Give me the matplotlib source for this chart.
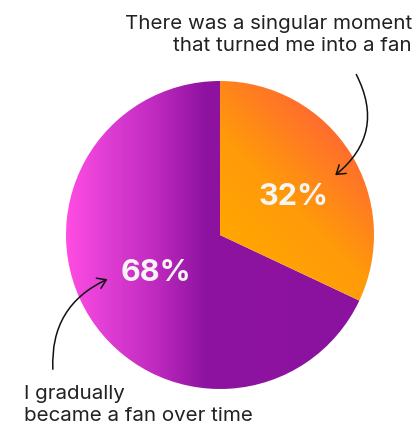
import numpy as np
import matplotlib
matplotlib.use("Agg")
import matplotlib.pyplot as plt
from matplotlib.colors import LinearSegmentedColormap
from matplotlib.patches import FancyArrowPatch

labels = ["There was a singular moment\nthat turned me into a fan",
          "I gradually\nbecame a fan over time"]
values = [32, 68]
pct_labels = ["32%", "68%"]

plt.rcParams['font.family'] = ['Inter', 'DejaVu Sans']

fig = plt.figure(figsize=(4.18, 4.32), dpi=100)
ax = fig.add_axes([0, 0, 1, 1])

cx, cy, r = 220, 197, 154
wedges, _ = ax.pie(values, startangle=90, counterclock=False, center=(cx, cy),
                   radius=r, frame=True, wedgeprops=dict(linewidth=0))
ax.set_xlim(0, 418)
ax.set_ylim(0, 432)
ax.set_aspect('equal')
ax.axis('off')

# gradient fills
ext = [cx - r, cx + r, cy - r, cy + r]
n = 400
xs = np.linspace(0, 1, n)
X, Y = np.meshgrid(xs, xs)

purple = LinearSegmentedColormap.from_list(
    "p", [(0, "#ff4ce2"), (0.12, "#e23fd6"), (0.28, "#c22bc0"), (0.45, "#8e13a1"), (1, "#8a129e")])
orange = LinearSegmentedColormap.from_list(
    "o", [(0, "#ffa600"), (0.4, "#ff9a0a"), (0.7, "#ff7c22"), (1, "#ff5e3a")])

for w in wedges:
    w.set_facecolor('none')

im1 = ax.imshow(X, extent=ext, origin='lower', cmap=purple, zorder=1, aspect='auto')
im1.set_clip_path(wedges[1])
D = 0.6 * (X - 0.5) + 0.6 * (Y - 0.5)
im0 = ax.imshow(D, extent=ext, origin='lower', cmap=orange, zorder=1, aspect='auto',
                vmin=0.0, vmax=0.5)
im0.set_clip_path(wedges[0])

ax.text(294, 432 - 197, pct_labels[0], color='#f5f5f5', fontsize=22, fontweight='bold',
        ha='center', va='center', zorder=3)
ax.text(156, 432 - 273, pct_labels[1], color='#f5f5f5', fontsize=22, fontweight='bold',
        ha='center', va='center', zorder=3)

ax.text(412, 432 - 35, labels[0], color='#222222', fontsize=14.8, ha='right', va='center',
        linespacing=1.25, zorder=3)
ax.text(24, 432 - 405, labels[1], color='#222222', fontsize=14.8, ha='left', va='center',
        linespacing=1.25, zorder=3)

a1 = FancyArrowPatch((355, 432 - 72), (333, 432 - 177), connectionstyle="arc3,rad=-0.42",
                     arrowstyle="->,head_length=6,head_width=4", color='#111111', lw=1.1,
                     zorder=4)
a2 = FancyArrowPatch((53, 432 - 372), (110, 432 - 278), connectionstyle="arc3,rad=-0.35",
                     arrowstyle="->,head_length=6,head_width=4", color='#111111', lw=1.1,
                     zorder=4)
ax.add_patch(a1)
ax.add_patch(a2)

fig.savefig("out.png", dpi=100, facecolor='white')
